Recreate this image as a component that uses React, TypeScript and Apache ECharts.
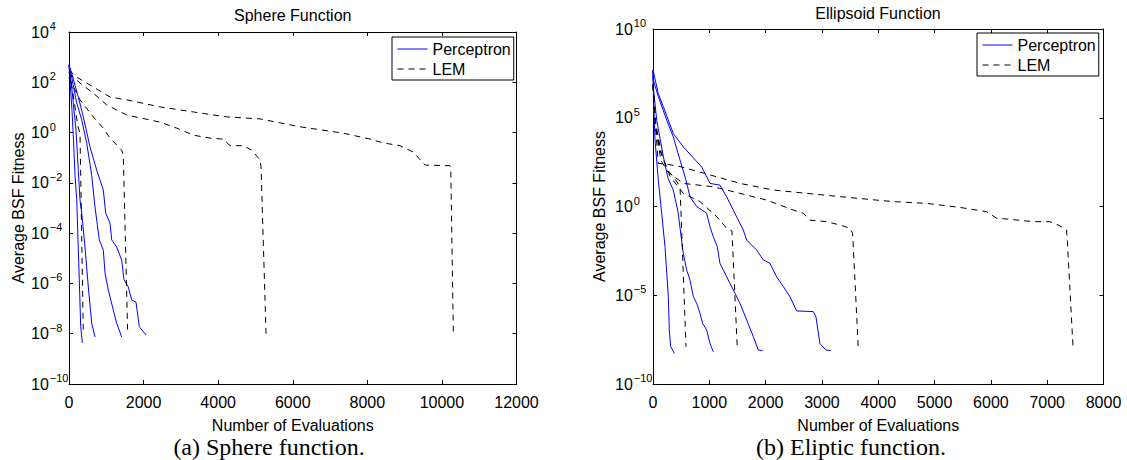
import React, { useEffect, useRef } from "react";
import * as echarts from "echarts";

// ---------- texts ----------
const sphereTitle = "Sphere Function";
const ellipsoidTitle = "Ellipsoid Function";
const xAxisName = "Number of Evaluations";
const yAxisName = "Average BSF Fitness";
const seriesNames = ["Perceptron", "LEM"];
const captions = ["(a) Sphere function.", "(b) Eliptic function."];

// ---------- axes ----------
const sphereXMin = 0;
const sphereXMax = 12000;
const sphereXStep = 2000;
const sphereYMin = 1e-10;
const sphereYMax = 1e4;
const ellipsoidXMin = 0;
const ellipsoidXMax = 8000;
const ellipsoidXStep = 1000;
const ellipsoidYMin = 1e-10;
const ellipsoidYMax = 1e10;

// ---------- Sphere: Perceptron runs [evaluations, fitness] ----------
const spherePerceptron1 = [[0, 490], [27, 120], [80, 7.9], [121, 0.5], [161, 0.02], [207, 2.1e-3], [241, 5.4e-5], [276, 1.4e-6], [314, 1.9e-8], [357, 4.3e-9]];
const spherePerceptron2 = [[0, 490], [72, 65], [188, 1.26], [249, 0.032], [295, 2.1e-3], [341, 6.3e-4], [429, 2.8e-5], [518, 7.2e-7], [609, 2.6e-8], [697, 7.4e-9]];
const spherePerceptron3 = [[0, 490], [72, 160], [207, 15], [341, 3.2], [475, 0.38], [609, 0.02], [697, 1.1e-3], [813, 5.4e-5], [920, 2.1e-5], [966, 2.6e-6], [1054, 5.5e-7], [1188, 8.7e-8], [1279, 2.6e-8], [1413, 7.4e-9]];
const spherePerceptron4 = [[0, 490], [72, 230], [249, 26], [384, 4.2], [563, 0.27], [743, 0.032], [831, 0.013], [920, 5.2e-3], [984, 6.3e-4], [1100, 2.5e-4], [1145, 5.4e-5], [1279, 2.8e-5], [1413, 8.5e-6], [1475, 1.4e-6], [1590, 7.2e-7], [1682, 2.2e-7], [1797, 1.8e-7], [1885, 1.9e-8], [2065, 8.9e-9]];

// ---------- Sphere: LEM runs ----------
const sphereLem1 = [[0, 260], [80, 65], [241, 1.7], [295, 0.95], [384, 1e-8]];
const sphereLem2 = [[0, 150], [295, 20], [652, 4.2], [920, 1.5], [1100, 0.6], [1413, 0.2], [1456, 0.13], [1574, 1e-8]];
const sphereLem3 = [[0, 230], [295, 93], [652, 37], [1011, 12.6], [1548, 5], [2441, 2.6], [2889, 1.5], [3334, 0.79], [3782, 0.6], [4138, 0.55], [4318, 0.3], [4675, 0.3], [4900, 0.2], [5123, 0.081], [5149, 0.043], [5284, 1e-8]];
const sphereLem4 = [[0, 310], [207, 160], [652, 65], [1100, 26], [1548, 20], [2441, 10.5], [3334, 6.6], [4230, 4.2], [5123, 3.5], [6195, 1.7], [7349, 0.95], [8073, 0.55], [8421, 0.39], [8877, 0.3], [9226, 0.17], [9548, 0.051], [10218, 0.048], [10237, 0.039], [10307, 1e-8]];

// ---------- Ellipsoid: Perceptron runs ----------
const ellipsoidPerceptron1 = [[0, 4.9e7], [9, 1.0e6], [36, 5.6e3], [94, 31], [154, 0.42], [213, 5.5e-3], [272, 8.3e-6], [289, 1.1e-7], [314, 1.26e-8], [379, 5.4e-9]];
const ellipsoidPerceptron2 = [[0, 4.9e7], [5, 5.4e6], [66, 7.4e4], [178, 790], [266, 40], [360, 8.5], [444, 0.49], [538, 2.3e-3], [598, 2.6e-4], [657, 7.2e-5], [716, 8.3e-6], [776, 3.5e-6], [834, 9.8e-7], [882, 2.6e-7], [953, 1.1e-7], [1012, 1.9e-8], [1070, 6.6e-9]];
const ellipsoidPerceptron3 = [[0, 4.9e7], [5, 1.35e7], [94, 1.55e6], [243, 7.4e4], [360, 8.3e3], [479, 420], [585, 31], [657, 3.5], [776, 0.98], [953, 0.42], [1012, 0.072], [1070, 0.02], [1141, 5.5e-3], [1189, 6.3e-4], [1308, 1.1e-4], [1456, 1.3e-5], [1544, 3.5e-6], [1663, 4.1e-7], [1781, 4.7e-8], [1869, 8.3e-9], [1947, 7.6e-9]];
const ellipsoidPerceptron4 = [[0, 4.9e7], [94, 2.3e6], [183, 4.2e5], [360, 1.3e4], [538, 2.3e3], [864, 170], [923, 74], [1012, 20], [1189, 16], [1308, 3.5], [1486, 0.26], [1604, 0.047], [1663, 0.013], [1841, 3.5e-3], [1959, 9.8e-4], [2077, 6.3e-4], [2195, 1.1e-4], [2314, 3.1e-5], [2432, 8.3e-6], [2551, 1.3e-6], [2846, 1.2e-6], [2893, 6.2e-7], [2964, 1.9e-8], [3071, 8.3e-9], [3154, 7.6e-9]];

// ---------- Ellipsoid: LEM runs ----------
const ellipsoidLem1 = [[0, 7.1e6], [40, 6.3e4], [120, 1.6e3], [250, 126], [400, 32], [480, 13], [586, 1.26e-8]];
const ellipsoidLem2 = [[0, 7.1e6], [50, 4.0e4], [150, 1.0e3], [302, 50], [538, 5.5], [834, 1.9], [1131, 0.27], [1308, 0.059], [1402, 0.042], [1496, 1.2e-8]];
const ellipsoidLem3 = [[0, 7.1e6], [50, 2.5e4], [140, 400], [266, 87], [538, 20], [1070, 13], [1544, 5.5], [2018, 2.3], [2491, 0.63], [2668, 0.42], [2787, 0.17], [3083, 0.14], [3319, 0.091], [3497, 0.059], [3545, 0.031], [3644, 1.26e-8]];
const ellipsoidLem4 = [[0, 7.1e6], [36, 7.4e4], [94, 270], [420, 200], [953, 68], [1544, 20], [2136, 8.5], [2728, 5.5], [3319, 3.6], [4029, 2.2], [4265, 1.9], [4858, 1.5], [5449, 0.89], [5923, 0.51], [6101, 0.22], [6337, 0.19], [6750, 0.14], [7047, 0.14], [7194, 0.091], [7343, 0.048], [7354, 0.02], [7460, 1.0e-8]];

const spherePerceptronRuns = [spherePerceptron1, spherePerceptron2, spherePerceptron3, spherePerceptron4];
const sphereLemRuns = [sphereLem1, sphereLem2, sphereLem3, sphereLem4];
const ellipsoidPerceptronRuns = [ellipsoidPerceptron1, ellipsoidPerceptron2, ellipsoidPerceptron3, ellipsoidPerceptron4];
const ellipsoidLemRuns = [ellipsoidLem1, ellipsoidLem2, ellipsoidLem3, ellipsoidLem4];

const FONT = "Liberation Sans";
const SERIF = "Liberation Serif";
const BLUE = "#0000ff";
const BLACK = "#000000";

function supLabel(v: number) {
  const e = Math.round(Math.log10(v));
  const s = e < 0 ? "\u2212" + -e : String(e);
  return "{b|10}{e|" + s + "}";
}

function makeLine(name: string, data: number[][], axisIdx: number, dashed: boolean) {
  const color = dashed ? BLACK : BLUE;
  return {
    type: "line",
    name,
    data,
    xAxisIndex: axisIdx,
    yAxisIndex: axisIdx,
    symbol: "none",
    symbolSize: 0,
    showSymbol: false,
    silent: true,
    emphasis: { disabled: true },
    itemStyle: { color },
    lineStyle: { color, width: 1, type: dashed ? [6, 5] : "solid" },
    z: dashed ? 3 : 2,
  };
}

function xAxisCfg(grid: number, min: number, max: number, step: number, pos: "bottom" | "top") {
  const main = pos === "bottom";
  return {
    type: "value",
    gridIndex: grid,
    min,
    max,
    interval: step,
    position: pos,
    axisLine: { show: true, onZero: false, lineStyle: { color: BLACK, width: 1 } },
    axisTick: { show: true, inside: true, length: 4, lineStyle: { color: BLACK, width: 1 } },
    splitLine: { show: false },
    axisLabel: main
      ? { show: true, color: BLACK, fontSize: 16, fontFamily: FONT, margin: 10, formatter: (v: number) => String(v) }
      : { show: false },
    name: main ? xAxisName : "",
    nameLocation: "middle",
    nameGap: 33,
    nameTextStyle: { color: BLACK, fontSize: 16, fontFamily: FONT },
  };
}

function yAxisCfg(grid: number, base: number, min: number, max: number, pos: "left" | "right", nameGap: number) {
  const main = pos === "left";
  return {
    type: "log",
    logBase: base,
    gridIndex: grid,
    min,
    max,
    position: pos,
    axisLine: { show: true, onZero: false, lineStyle: { color: BLACK, width: 1 } },
    axisTick: { show: true, inside: true, length: 4, lineStyle: { color: BLACK, width: 1 } },
    minorTick: { show: false },
    splitLine: { show: false },
    minorSplitLine: { show: false },
    axisLabel: main
      ? {
          show: true,
          align: "left",
          margin: 38,
          formatter: supLabel,
          rich: {
            b: { fontSize: 16, fontFamily: FONT, color: BLACK },
            e: { fontSize: 11, fontFamily: FONT, color: BLACK, padding: [0, 0, 12, 1] },
          },
        }
      : { show: false },
    name: main ? yAxisName : "",
    nameLocation: "middle",
    nameGap,
    nameRotate: 90,
    nameTextStyle: { color: BLACK, fontSize: 16, fontFamily: FONT },
  };
}

function legendCfg(left: number, top: number) {
  return {
    data: seriesNames,
    orient: "vertical",
    left,
    top,
    itemWidth: 30,
    itemHeight: 10,
    itemGap: 4,
    padding: [4, 3, 3, 5],
    borderColor: BLACK,
    borderWidth: 1,
    backgroundColor: "#ffffff",
    selectedMode: false,
    itemStyle: { opacity: 0 },
    lineStyle: { width: 1 },
    textStyle: { color: BLACK, fontSize: 16, fontFamily: FONT },
  };
}

function textEl(text: string, x: number, y: number, size: number, family: string) {
  return {
    type: "text",
    x,
    y,
    silent: true,
    style: {
      text,
      fontSize: size,
      fontFamily: family,
      fill: BLACK,
      align: "center",
      verticalAlign: "middle",
      textAlign: "center",
      textVerticalAlign: "middle",
    },
  };
}

export default function App() {
  const ref = useRef<HTMLDivElement>(null);

  useEffect(() => {
    if (!ref.current) return;
    const chart = echarts.init(ref.current, null, { renderer: "svg" });

    const series = [
      ...spherePerceptronRuns.map((d) => makeLine(seriesNames[0], d, 0, false)),
      ...sphereLemRuns.map((d) => makeLine(seriesNames[1], d, 0, true)),
      ...ellipsoidPerceptronRuns.map((d) => makeLine(seriesNames[0], d, 2, false)),
      ...ellipsoidLemRuns.map((d) => makeLine(seriesNames[1], d, 2, true)),
    ];

    const option = {
      animation: false,
      backgroundColor: "#ffffff",
      textStyle: { fontFamily: FONT },
      grid: [
        { left: 69, top: 32, width: 447.5, height: 352, containLabel: false },
        { left: 653, top: 29, width: 450.5, height: 355, containLabel: false },
      ],
      xAxis: [
        xAxisCfg(0, sphereXMin, sphereXMax, sphereXStep, "bottom"),
        xAxisCfg(0, sphereXMin, sphereXMax, sphereXStep, "top"),
        xAxisCfg(1, ellipsoidXMin, ellipsoidXMax, ellipsoidXStep, "bottom"),
        xAxisCfg(1, ellipsoidXMin, ellipsoidXMax, ellipsoidXStep, "top"),
      ],
      yAxis: [
        yAxisCfg(0, 100, sphereYMin, sphereYMax, "left", 43),
        yAxisCfg(0, 100, sphereYMin, sphereYMax, "right", 0),
        yAxisCfg(1, 1e5, ellipsoidYMin, ellipsoidYMax, "left", 46),
        yAxisCfg(1, 1e5, ellipsoidYMin, ellipsoidYMax, "right", 0),
      ],
      legend: [legendCfg(392, 37), legendCfg(977, 33)],
      graphic: [
        textEl(sphereTitle, 292.75, 15, 16, FONT),
        textEl(ellipsoidTitle, 878, 13, 16, FONT),
        textEl(captions[0], 269, 447, 24, SERIF),
        textEl(captions[1], 851, 447, 24, SERIF),
      ],
      series,
    };

    chart.setOption(option as any);
    return () => chart.dispose();
  }, []);

  return (
    <div
      ref={ref}
      style={{ position: "absolute", left: 0, top: 0, width: 1127, height: 460, background: "#fff" }}
    />
  );
}
